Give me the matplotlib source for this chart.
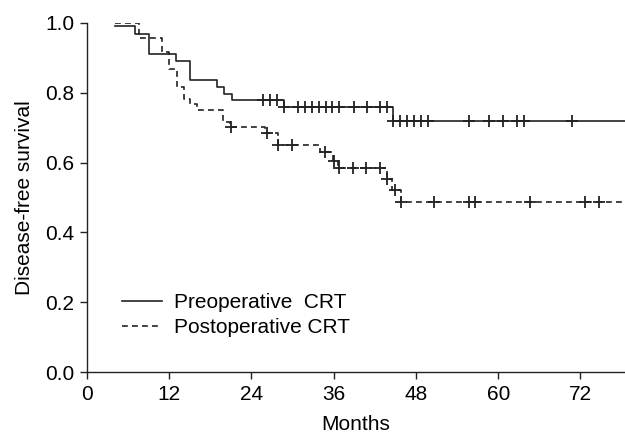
import numpy as np
import matplotlib
matplotlib.use('Agg')
from matplotlib import pyplot as plt

plt.rcParams['font.family'] = ['Liberation Sans', 'DejaVu Sans']

# step curves (months, survival level after the step)
pre_t = [4.1, 7.0, 9.0, 13.0, 15.0, 18.9, 20.0, 21.1, 28.7, 44.7]
pre_s = [0.99, 0.968, 0.910, 0.892, 0.836, 0.817, 0.797, 0.779, 0.758, 0.720]
pre_cens = [25.7, 26.7, 27.7, 28.7, 30.8, 31.8, 32.8, 33.9, 34.9, 35.8, 36.8,
            38.9, 40.8, 42.8, 43.8, 44.7, 45.7, 46.7, 47.7, 48.8, 49.8,
            55.8, 58.7, 60.7, 62.7, 63.7, 70.8]

post_t = [4.1, 7.6, 11.0, 12.0, 13.1, 14.1, 15.1, 16.0, 19.9, 20.8, 26.0,
          27.8, 34.0, 35.9, 36.6, 43.8, 44.5, 45.8]
post_s = [1.0, 0.957, 0.918, 0.868, 0.817, 0.783, 0.768, 0.752, 0.716, 0.703,
          0.686, 0.650, 0.630, 0.605, 0.584, 0.552, 0.521, 0.486]
post_cens = [21.0, 26.3, 27.9, 29.9, 34.7, 36.0, 36.8, 38.8, 40.7, 42.7, 43.8,
             45.0, 45.8, 50.7, 55.7, 56.6, 64.7, 72.6, 74.7]

x_end = 78.5
col = '#222222'


def level_at(times, levels, x):
    i = np.searchsorted(times, x, side='right') - 1
    return np.array(levels)[i]


fig = plt.figure(figsize=(6.25, 4.37), dpi=100)
ax = fig.add_axes([87/625, 1-372/437, 538/625, 349/437])

# preoperative
ax.step(pre_t + [x_end], pre_s + [pre_s[-1]], where='post', color=col, lw=1.2,
        label='Preoperative  CRT')
ax.plot(pre_cens, level_at(pre_t, pre_s, pre_cens), ls='none', marker='+',
        ms=8, mew=1.3, color=col)

# postoperative
ax.step(post_t + [x_end], post_s + [post_s[-1]], where='post', color=col, lw=1.2,
        ls=(0, (3.5, 2.5)), label='Postoperative CRT')
ax.plot(post_cens, level_at(post_t, post_s, post_cens), ls='none', marker='+',
        ms=8, mew=1.3, color=col)

ax.set_xlim(0, x_end)
ax.set_ylim(0, 1.0)
ax.set_xticks([0, 12, 24, 36, 48, 60, 72])
ax.set_yticks([0.0, 0.2, 0.4, 0.6, 0.8, 1.0])
ax.set_yticklabels(['0.0', '0.2', '0.4', '0.6', '0.8', '1.0'])
ax.tick_params(labelsize=15, length=5, width=1, direction='out', pad=4, color=col)
for s in ['top', 'right']:
    ax.spines[s].set_visible(False)
for s in ['left', 'bottom']:
    ax.spines[s].set_color(col)
    ax.spines[s].set_linewidth(1)

ax.set_xlabel('Months', fontsize=15, labelpad=8)
ax.set_ylabel('Disease-free survival', fontsize=15, labelpad=8)

ax.legend(loc='lower left', bbox_to_anchor=(0.05, 0.075), frameon=False,
          fontsize=15, handlelength=1.9, handletextpad=0.6, labelspacing=0.3,
          borderaxespad=0)

fig.savefig('out.png', dpi=100)
